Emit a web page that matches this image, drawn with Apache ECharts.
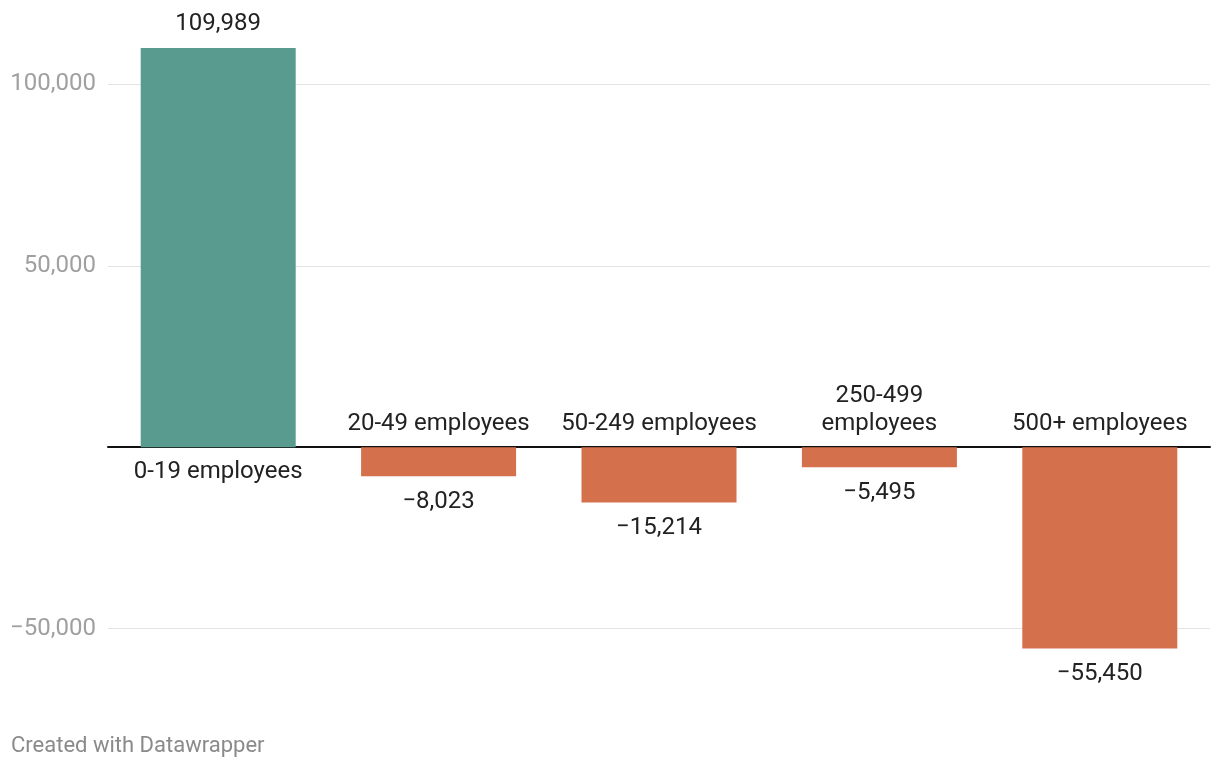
<!DOCTYPE html>
<html>
<head>
<meta charset="utf-8">
<script src="https://cdn.jsdelivr.net/npm/echarts@6/dist/echarts.min.js"></script>
<style>
  html, body { margin: 0; padding: 0; background: #ffffff; }
  #main { width: 1220px; height: 768px; }
</style>
</head>
<body>
<div id="main"></div>
<script>
// data
var categories = ['0-19 employees', '20-49 employees', '50-249 employees', '250-499\nemployees', '500+ employees'];
var values = [109989, -8023, -15214, -5495, -55450];
var yTicks = [-50000, 0, 50000, 100000];

var GREEN = '#5a9b8f';
var ORANGE = '#d4704c';
var FONT = 'Roboto';

function fmt(v) {
  var s = Math.abs(v).toString().replace(/\B(?=(\d{3})+(?!\d))/g, ',');
  return (v < 0 ? '\u2212' : '') + s;
}

var myChart = echarts.init(document.getElementById('main'));

myChart.setOption({
  animation: false,
  textStyle: { fontFamily: FONT },
  grid: { left: 108, right: 10, top: 48, height: 617 },
  graphic: [{
    type: 'text',
    left: 11, top: 735,
    style: { text: 'Created with Datawrapper', fill: '#8a8a8a', font: '22px ' + FONT }
  }],
  xAxis: {
    type: 'category',
    data: categories,
    axisLine: { onZero: true, lineStyle: { color: '#111111', width: 2 } },
    axisTick: { show: false },
    axisLabel: { show: false },
    splitLine: { show: false }
  },
  yAxis: {
    type: 'value',
    min: -60000,
    max: 110000,
    axisLine: { show: false },
    axisTick: { show: false, customValues: yTicks },
    axisLabel: {
      customValues: yTicks,
      color: '#a0a0a0',
      fontSize: 24,
      fontFamily: FONT,
      margin: 12,
      formatter: function (v) { return v === 0 ? '' : fmt(v); }
    },
    splitLine: { lineStyle: { color: '#e3e3e3', width: 1 } }
  },
  series: [
    {
      type: 'bar',
      barWidth: 155,
      data: values.map(function (v) {
        return {
          value: v,
          itemStyle: { color: v >= 0 ? GREEN : ORANGE },
          label: { position: v >= 0 ? 'top' : 'bottom', distance: v >= 0 ? 12 : 13.5 }
        };
      }),
      label: {
        show: true,
        color: '#222222',
        fontSize: 24,
        fontFamily: FONT,
        formatter: function (p) { return fmt(p.value); }
      }
    },
    {
      type: 'scatter',
      symbolSize: 0,
      silent: true,
      itemStyle: { opacity: 1 },
      data: values.map(function (v, i) {
        return {
          value: [i, 0],
          label: { position: v >= 0 ? 'bottom' : 'top', distance: v >= 0 ? 11 : 9 }
        };
      }),
      label: {
        show: true,
        color: '#222222',
        fontSize: 24,
        lineHeight: 28,
        fontFamily: FONT,
        formatter: function (p) { return categories[p.dataIndex]; }
      }
    }
  ]
});
</script>
</body>
</html>
